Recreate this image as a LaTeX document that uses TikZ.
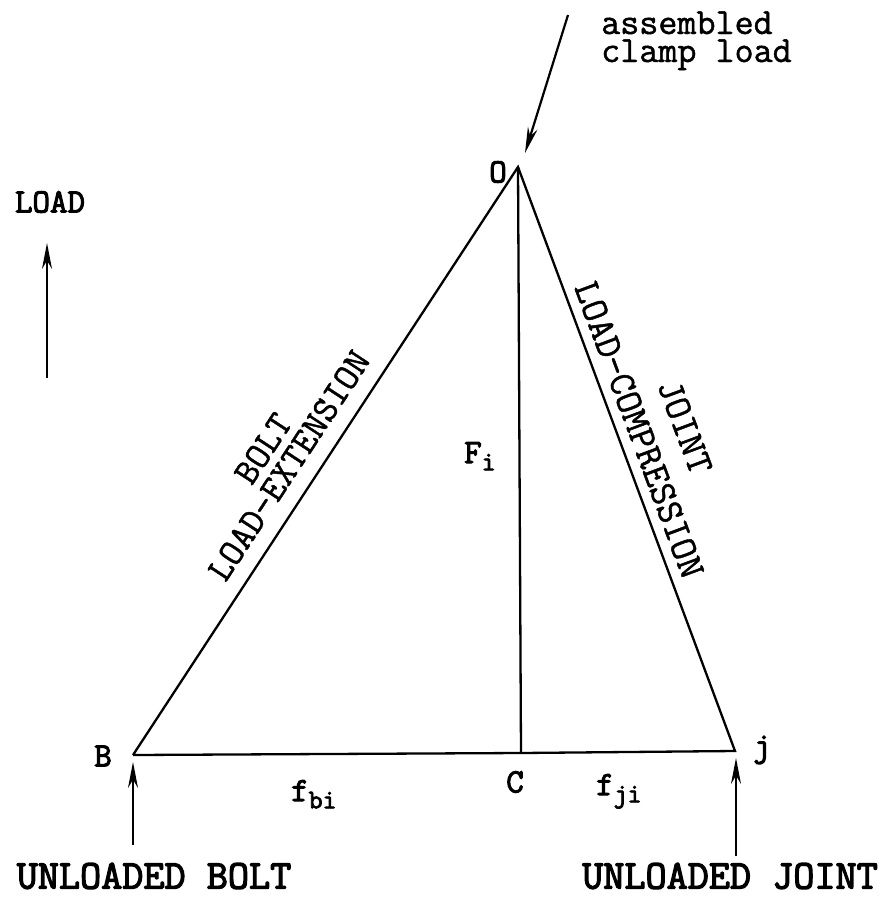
\documentclass[tikz,border=0pt]{standalone}
\usepackage{fontspec}
\newfontfamily\cwr[FakeBold=1.2]{Latin Modern Mono}
\newfontfamily\cwb[FakeBold=3]{Latin Modern Mono}
\usetikzlibrary{arrows.meta}
\tikzset{
  ln/.style={line width=2.3pt},
  arr/.style={line width=2.2pt,-{Stealth[length=26pt,width=10pt]}},
  lbl/.style={font=\cwb\fontsize{34}{36}\selectfont, inner sep=0pt},
  big/.style={font=\cwb\fontsize{41}{44}\selectfont, inner sep=0pt},
  rot/.style={font=\cwr\fontsize{37}{31}\selectfont, inner sep=0pt, align=center},
  rotb/.style={font=\cwr\fontsize{38}{44}\selectfont, inner sep=0pt, align=center},
  clamp/.style={font=\cwr\fontsize{37}{28}\selectfont, inner sep=0pt, align=left},
}
\newcommand{\subtx}[1]{\raisebox{-0.5ex}{\fontsize{27}{28}\selectfont #1}}
\begin{document}
\begin{tikzpicture}[x=1pt,y=-1pt]
\useasboundingbox (0,0) rectangle (886,897);
\coordinate (O) at (518,167);
\coordinate (B) at (133,755);
\coordinate (C) at (521,753);
\coordinate (J) at (735,751);
\draw[ln] (B) -- (O) -- (J) -- (C) -- (B);
\draw[ln] (O) -- (C);
% labels
\node[lbl] (lO) at (498,172) {O};
\node[lbl] (lB) at (103,756) {B};
\node[lbl] (lC) at (515,782) {C};
\node[lbl] (lJ) at (762,750) {j};
\node[lbl,anchor=base west] (lF) at (464,463) {F\subtx{i}};
\node[lbl,anchor=base west] (lfb) at (291,801) {f\subtx{bi}};
\node[lbl,anchor=base west] (lfj) at (596,795) {f\subtx{ji}};
% clamp load
\node[clamp,anchor=base west] (cl) at (601,62) {assembled\\clamp load};
\coordinate (cs) at (568,15);
\coordinate (ce) at (525,153);
\draw[arr] (cs) -- (ce);
% load arrow
\node[lbl] (lload) at (50,202) {LOAD};
\coordinate (la) at (47,378);
\coordinate (lb) at (47,243);
\draw[arr] (la) -- (lb);
% bottom arrows
\coordinate (ba) at (133,845);
\coordinate (bb) at (133,762);
\draw[arr] (ba) -- (bb);
\coordinate (ja) at (736,856);
\coordinate (jb) at (736,758);
\draw[arr] (ja) -- (jb);
\node[big] (ub) at (154,876) {UNLOADED BOLT};
\node[big] (uj) at (730,876) {UNLOADED JOINT};
% rotated
\node[rot,rotate=56.8] (le) at (276,457) {BOLT\\LOAD-EXTENSION};
\node[rotb,rotate=-69.6] (lc) at (660,422) {\hspace*{26pt}JOINT\\LOAD-COMPRESSION};
\end{tikzpicture}
\end{document}
